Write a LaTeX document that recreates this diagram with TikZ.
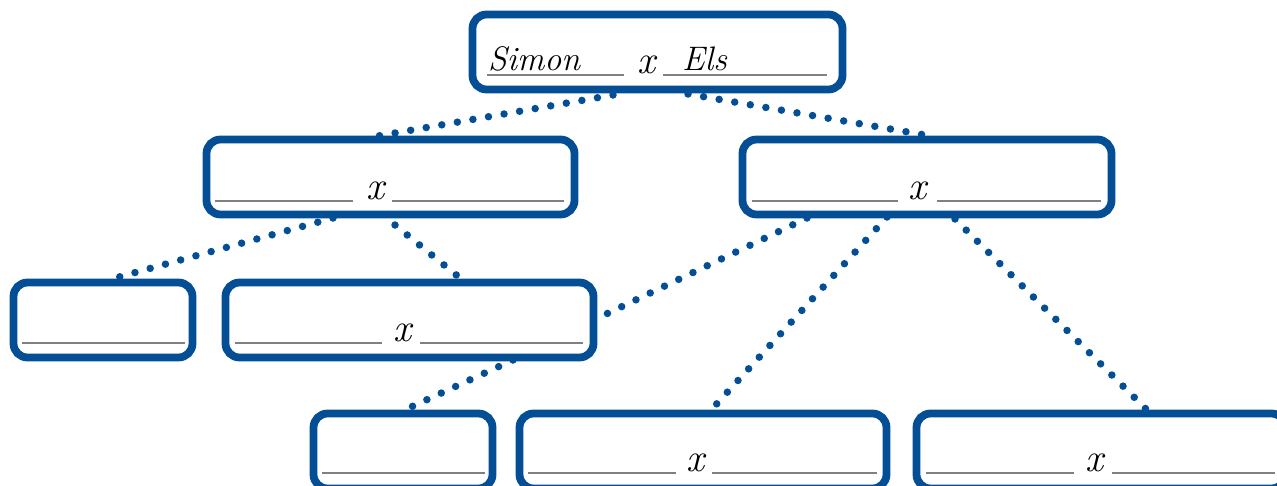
\documentclass[tikz,border=0pt]{standalone}
\usetikzlibrary{calc,backgrounds}
\definecolor{boxblue}{RGB}{3,78,149}
\definecolor{lineg}{RGB}{128,128,128}
\begin{document}
\begin{tikzpicture}[x=1pt,y=-1pt,
  famboxw/.style={draw=boxblue,line width=7.8pt,rounded corners=14pt,fill=white,
     minimum width=368pt,minimum height=75pt,inner sep=0pt,outer sep=0pt},
  famboxs/.style={famboxw,minimum width=179pt},
  link/.style={draw=boxblue,line width=7.5pt,line cap=round,dash pattern=on 0pt off 15.8pt},
  uline/.style={draw=lineg,line width=1.6pt},
  hand/.style={font=\fontsize{34}{36}\selectfont\itshape,inner sep=0pt,text=black},
  handx/.style={font=\fontsize{40}{42}\selectfont\itshape,inner sep=0pt,text=black}]
\useasboundingbox (0,0) rectangle (1277,485);
\clip (0,0) rectangle (1277,485);
% boxes
\node[famboxw,minimum width=370pt] (top) at (657.5,52) {};
\node[famboxw] (l2l) at (390.5,177) {};
\node[famboxw,minimum width=369pt] (l2r) at (927,177) {};
\node[famboxs] (a) at (103,320) {};
\node[famboxw] (b) at (409.5,320) {};
\node[famboxs] (c) at (403,451) {};
\node[famboxw,minimum width=367pt] (d) at (703,451) {};
\node[famboxw,minimum width=369pt] (e) at (1101,451) {};
% connectors
\begin{scope}[on background layer]
\draw[link] ($(top.south)+(-44.5,5.5)$) -- ($(l2l.north)+(-18.5,-2.5)$);
\draw[link] ($(top.south)+(30.5,4.5)$) -- ($(l2r.north)+(-2,-4.5)$);
\draw[link] ($(l2l.south)+(-57.5,3.5)$) -- ($(a.north)+(5,-2.5)$);
\draw[link] ($(l2l.south)+(4.5,10.5)$) -- ($(b.north)+(50.5,-4.5)$);
\draw[link] ($(l2r.south)+(-120,3.5)$) -- ($(b.east)+(6.5,-3)$);
\draw[link] ($(l2r.south)+(-40,2.5)$) -- ($(d.north)+(9,-4.5)$);
\draw[link] ($(l2r.south)+(28,4.5)$) -- ($(e.north)+(46,-3.5)$);
\draw[link] ($(b.south)+(103.5,2.5)$) -- ($(c.north)+(8,-6.5)$);
\end{scope}
% underlines
\draw[uline] (487,75) -- (624,75) (663,75) -- (827,75);
\draw[uline] (215,201) -- (353,201) (392,201) -- (564,201);
\draw[uline] (752,201) -- (898,201) (937,201) -- (1101,201);
\draw[uline] (22,343) -- (185,343);
\draw[uline] (235,343) -- (382,343) (420,343) -- (583,343);
\draw[uline] (322,473) -- (485,473);
\draw[uline] (528,473) -- (676,473) (712,473) -- (877,473);
\draw[uline] (926,473) -- (1074,473) (1112,473) -- (1275,473);
% texts
\node[hand,anchor=base west] (simon) at (488,70) {Simon};
\node[hand,anchor=base west] (els) at (682,70) {Els};
\node[handx,anchor=base] (x0) at (646,73) {x};
\node[handx,anchor=base] (x1) at (375,199) {x};
\node[handx,anchor=base] (x2) at (917,199) {x};
\node[handx,anchor=base] (x3) at (402,341) {x};
\node[handx,anchor=base] (x4) at (695,471) {x};
\node[handx,anchor=base] (x5) at (1094,471) {x};
\end{tikzpicture}
\end{document}
